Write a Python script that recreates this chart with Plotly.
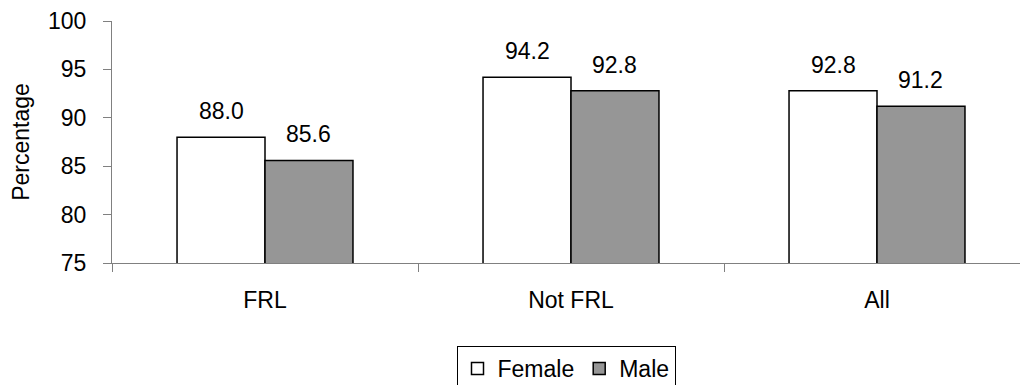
import plotly.graph_objects as go

categories = ["FRL", "Not FRL", "All"]
female = [88.0, 94.2, 92.8]
male = [85.6, 92.8, 91.2]
y_ticks = [75, 80, 85, 90, 95, 100]

FONT = "Liberation Sans, Arial, sans-serif"
FS = 23

W, H = 1020, 385
M_L, M_R, M_T, M_B = 112, 0, 21, 121.5
plot_w = W - M_L - M_R
cat_px = 306.0  # pixel width of one category slot
x_span = plot_w / cat_px
bargap = 0.425
bar_px = cat_px * (1 - bargap) / 2

fig = go.Figure()
fig.add_trace(go.Bar(
    x=categories, y=female, name="Female",
    marker=dict(color="white", line=dict(color="black", width=1.5)),
))
fig.add_trace(go.Bar(
    x=categories, y=male, name="Male",
    marker=dict(color="#969696", line=dict(color="black", width=1.5)),
))

# value labels above each bar
for series, shift in ((female, -bar_px / 2), (male, bar_px / 2)):
    for cat, v in zip(categories, series):
        fig.add_annotation(
            x=cat, y=v, text=f"{v:.1f}", showarrow=False,
            xshift=shift, yshift=11, yanchor="bottom",
            font=dict(family=FONT, size=FS, color="black"),
        )

fig.update_layout(
    width=W, height=H,
    margin=dict(l=M_L, r=M_R, t=M_T, b=M_B, pad=0),
    paper_bgcolor="white", plot_bgcolor="white",
    barmode="group", bargap=bargap, bargroupgap=0,
    font=dict(family=FONT, size=FS, color="black"),
    showlegend=True,
    legend=dict(
        orientation="h", x=0.5, xanchor="center",
        yref="container", y=(H - 346) / H, yanchor="top",
        bordercolor="black", borderwidth=1, bgcolor="white",
        font=dict(family=FONT, size=FS, color="black"),
        itemwidth=30, traceorder="normal",
    ),
    xaxis=dict(
        type="category", range=[-0.5, -0.5 + x_span],
        showline=True, linecolor="#808080", linewidth=1,
        ticks="outside", tickson="boundaries", ticklen=8, tickcolor="#808080",
        ticklabelstandoff=16,
        showgrid=False, zeroline=False,
        tickfont=dict(family=FONT, size=FS, color="black"),
    ),
    yaxis=dict(
        range=[75, 100], tickvals=y_ticks,
        showline=True, linecolor="#808080", linewidth=1,
        ticks="outside", ticklen=8, tickcolor="#808080",
        ticklabelstandoff=12,
        showgrid=False, zeroline=False,
        title=dict(text="Percentage", standoff=11,
                   font=dict(family=FONT, size=FS, color="black")),
        tickfont=dict(family=FONT, size=FS, color="black"),
    ),
)

fig.write_html("out.html")
